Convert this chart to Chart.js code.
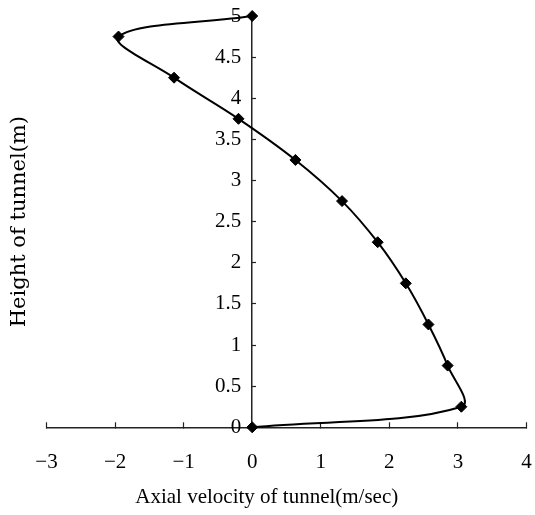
<!DOCTYPE html>
<html>
<head>
<meta charset="utf-8">
<script src="https://cdn.jsdelivr.net/npm/chart.js@4"></script>
<style>
  html, body { margin: 0; padding: 0; background: #fff; }
  #wrap { width: 535px; height: 515px; }
</style>
</head>
<body>
<div id="wrap"><canvas id="chart"></canvas></div>
<script>
// measured profile: axial velocity (m/sec) against height in the tunnel (m)
const heights = [0, 0.25, 0.75, 1.25, 1.75, 2.25, 2.75, 3.25, 3.75, 4.25, 4.75, 5];
const velocities = [0, 3.05, 2.85, 2.57, 2.24, 1.83, 1.31, 0.63, -0.2, -1.14, -1.95, 0];

const xTickValues = [-3, -2, -1, 0, 1, 2, 3, 4];
const yTickValues = [0, 0.5, 1, 1.5, 2, 2.5, 3, 3.5, 4, 4.5, 5];

const xTitle = 'Axial velocity of tunnel(m/sec)';
const yTitle = 'Height of tunnel(m)';

window.addEventListener('load', () => {
    Chart.defaults.font.family = '"Liberation Serif", serif';
    Chart.defaults.color = '#000';

    const ctx = document.getElementById('chart').getContext('2d');

    // the y labels sit a little left of the axis line, so they get their own scale
    const noEndPad = s => { s.paddingTop = 0; s.paddingBottom = 0; };

    new Chart(ctx, {
        type: 'scatter',
        data: {
            datasets: [{
                data: velocities.map((v, i) => ({ x: v, y: heights[i] })),
                showLine: true,
                tension: 0.35,
                borderColor: '#000',
                borderWidth: 2,
                pointStyle: 'rectRot',
                pointRadius: 5.5,
                pointBackgroundColor: '#000',
                pointBorderColor: '#000',
                pointBorderWidth: 1,
                clip: false
            }]
        },
        options: {
            responsive: true,
            maintainAspectRatio: false,
            animation: false,
            layout: { padding: { left: 7, right: 8.5, top: 16, bottom: 0 } },
            plugins: {
                legend: { display: false },
                tooltip: { enabled: false },
                title: {
                    display: true,
                    position: 'bottom',
                    text: xTitle,
                    font: { size: 21, weight: 'normal' },
                    padding: { top: 10, bottom: 4.5 }
                }
            },
            scales: {
                x: {
                    type: 'linear',
                    position: 'bottom',
                    min: -3,
                    max: 4,
                    afterBuildTicks: s => { s.ticks = xTickValues.map(v => ({ value: v })); },
                    afterFit: s => { s.paddingLeft = 0; s.paddingRight = 0; s.height = 48; },
                    ticks: {
                        font: { size: 21 },
                        padding: 28,
                        callback: v => String(v).replace('-', '\u2212')
                    },
                    grid: {
                        display: true,
                        drawOnChartArea: false,
                        drawTicks: true,
                        tickLength: -5,
                        tickColor: '#222',
                        tickWidth: 1.2
                    },
                    border: { display: true, color: '#222', width: 1.5 }
                },
                y: {
                    type: 'linear',
                    position: { x: 0 },
                    min: 0,
                    max: 5,
                    afterBuildTicks: s => { s.ticks = yTickValues.map(v => ({ value: v })); },
                    afterFit: noEndPad,
                    ticks: { display: false },
                    grid: {
                        display: true,
                        drawOnChartArea: false,
                        drawTicks: true,
                        tickLength: -5,
                        tickColor: '#222',
                        tickWidth: 1.2
                    },
                    border: { display: true, color: '#222', width: 1.5 }
                },
                yLabels: {
                    type: 'linear',
                    position: { x: -0.16 },
                    min: 0,
                    max: 5,
                    afterBuildTicks: s => { s.ticks = yTickValues.map(v => ({ value: v })); },
                    afterFit: noEndPad,
                    ticks: { font: { size: 21 }, padding: 0, callback: v => String(v) },
                    grid: { display: false, drawTicks: false },
                    border: { display: false }
                },
                yTitle: {
                    type: 'linear',
                    position: 'left',
                    min: 0,
                    max: 5,
                    afterFit: noEndPad,
                    ticks: { display: false },
                    grid: { display: false, drawTicks: false },
                    border: { display: false },
                    title: {
                        display: true,
                        text: yTitle,
                        font: { family: '"DejaVu Serif", serif', size: 21 },
                        padding: { top: 0, bottom: 14.3 }
                    }
                }
            }
        }
    });
});
</script>
</body>
</html>
